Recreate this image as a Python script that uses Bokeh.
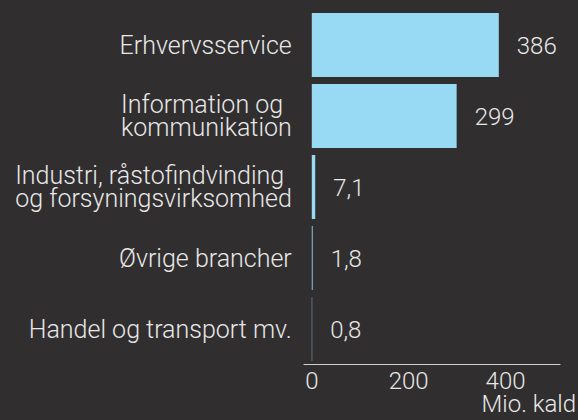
from bokeh.plotting import figure
from bokeh.models import ColumnDataSource, FixedTicker, Range1d, FactorRange
from bokeh.core.properties import value
from bokeh.embed import file_html
from bokeh.resources import INLINE

categories = ["Erhvervsservice", "Information og kommunikation",
              "Industri, råstofindvinding og forsyningsvirksomhed",
              "Øvrige brancher", "Handel og transport mv."]
category_labels = ["Erhvervsservice", "Information og\nkommunikation",
                   "Industri, råstofindvinding\nog forsyningsvirksomhed",
                   "Øvrige brancher", "Handel og transport mv."]
values = [386, 299, 7.1, 1.8, 0.8]
value_labels = ["386", "299", "7,1", "1,8", "0,8"]
x_ticks = [0, 200, 400]
axis_title = "Mio. kald"

BG = "#312e2f"
TXT = "#e8e8e8"
BAR = "#98d9f3"
FONT = "'Roboto Light', Roboto"
FS = "24px"
FS_CAT = "25px"

src = ColumnDataSource(dict(cat=categories, val=values, lab=value_labels,
                            name=category_labels, zero=[0] * len(values)))

p = figure(width=578, height=420,
           y_range=FactorRange(factors=categories[::-1]),
           x_range=Range1d(-642.5, 550.5),
           output_backend="svg", toolbar_location=None,
           min_border_left=0, min_border_right=0,
           min_border_top=9, min_border_bottom=56,
           background_fill_color=BG, border_fill_color=BG)
p.outline_line_color = None
p.grid.grid_line_color = None

p.hbar(y="cat", left=0, right="val", height=0.9, source=src,
       fill_color=BAR, line_color=None)
p.text(x="val", y="cat", text="lab", source=src, x_offset=18,
       text_align="left", text_baseline="middle",
       text_font=value(FONT), text_font_size=FS, text_color=TXT)
p.text(x="zero", y="cat", text="name", source=src, x_offset=-20,
       anchor="center_right", text_align="left",
       text_line_height=0.78,
       text_font=value(FONT), text_font_size=FS_CAT, text_color=TXT)

xa = p.xaxis[0]
xa.ticker = FixedTicker(ticks=x_ticks)
xa.bounds = (-17, 513)
xa.major_tick_line_color = None
xa.minor_tick_line_color = None
xa.axis_line_color = "#cfcfcf"
xa.major_label_text_font = FONT
xa.major_label_text_font_size = FS
xa.major_label_text_color = TXT
xa.major_label_standoff = 1
# end-aligned title; trailing no-break spaces keep the whole text inside the window
xa.axis_label = axis_title + "\u00a0" * 17
xa.axis_label_align = "end"
xa.axis_label_standoff = -2
xa.axis_label_text_line_height = 0.75
xa.axis_label_text_font = FONT
xa.axis_label_text_font_size = FS
xa.axis_label_text_font_style = "normal"
xa.axis_label_text_color = TXT

p.yaxis.visible = False

html = file_html(p, INLINE)
html = html.replace("<head>", "<head><style>html,body{background:#312e2f;}</style>", 1)
open("out.html", "w").write(html)
